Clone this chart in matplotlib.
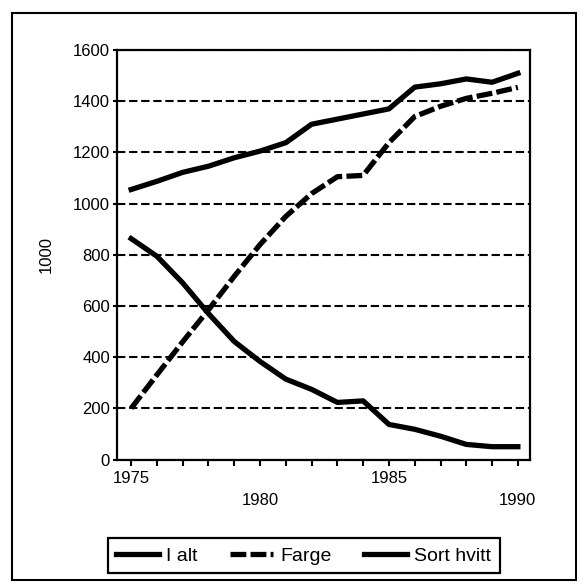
import matplotlib.pyplot as plt
from matplotlib.patches import Rectangle

# values (1000s)
years = list(range(1975, 1991))
i_alt = [1055, 1087, 1122, 1146, 1179, 1205, 1238, 1310, 1330, 1350, 1370,
         1455, 1468, 1487, 1474, 1509]
farge = [200, 331, 460, 585, 716, 840, 950, 1039, 1105, 1110, 1238, 1340,
         1380, 1411, 1431, 1454]
sort_hvitt = [863, 794, 690, 570, 461, 383, 314, 274, 223, 229, 137, 118,
              91, 59, 50, 50]
yticks = [0, 200, 400, 600, 800, 1000, 1200, 1400, 1600]
xlabels = {1975: "1975", 1980: "\n1980", 1985: "1985", 1990: "\n1990"}

plt.rcParams["font.family"] = ["Liberation Sans", "DejaVu Sans"]
plt.rcParams["font.size"] = 12

fig = plt.figure(figsize=(5.84, 5.87), dpi=100)
ax = fig.add_axes([0.2003, 0.2172, 0.7072, 0.6976])

ax.plot(years, i_alt, color="black", lw=3.8, solid_joinstyle="round", label="I alt")
ax.plot(years, farge, color="black", lw=3.8, dashes=(3, 0.8),
        dash_capstyle="butt", label="Farge")
ax.plot(years, sort_hvitt, color="black", lw=3.8, solid_joinstyle="round",
        label="Sort hvitt")

ax.set_xlim(1974.45, 1990.47)
ax.set_ylim(0, 1600)
ax.set_yticks(yticks)
ax.set_xticks(years)
ax.set_xticklabels([xlabels.get(y, "") for y in years])
for t in ax.get_xticklabels():
    t.set_linespacing(1.6)
ax.yaxis.grid(True, color="black", lw=1.5, ls=(0, (4, 1.8)))

ax.tick_params(axis="x", direction="out", length=4, width=1.5, pad=4)
ax.tick_params(axis="y", direction="out", length=3, width=1.5, pad=2)
for s in ax.spines.values():
    s.set_linewidth(1.6)

ax.set_ylabel("1000")
ax.yaxis.set_label_coords(-0.152, 0.5)

leg = fig.legend(loc="center", bbox_to_anchor=(0.52, 0.053), ncol=3,
                 fontsize=14, fancybox=False, edgecolor="black", framealpha=1,
                 handlelength=2.2, handletextpad=0.35, columnspacing=1.7,
                 borderpad=0.45)
leg.get_frame().set_linewidth(1.6)

fig.patches.append(Rectangle((0.0205, 0.0119), 0.9658, 0.966,
                             transform=fig.transFigure, fill=False,
                             edgecolor="black", lw=1.5))

fig.savefig("out.png", dpi=100)
